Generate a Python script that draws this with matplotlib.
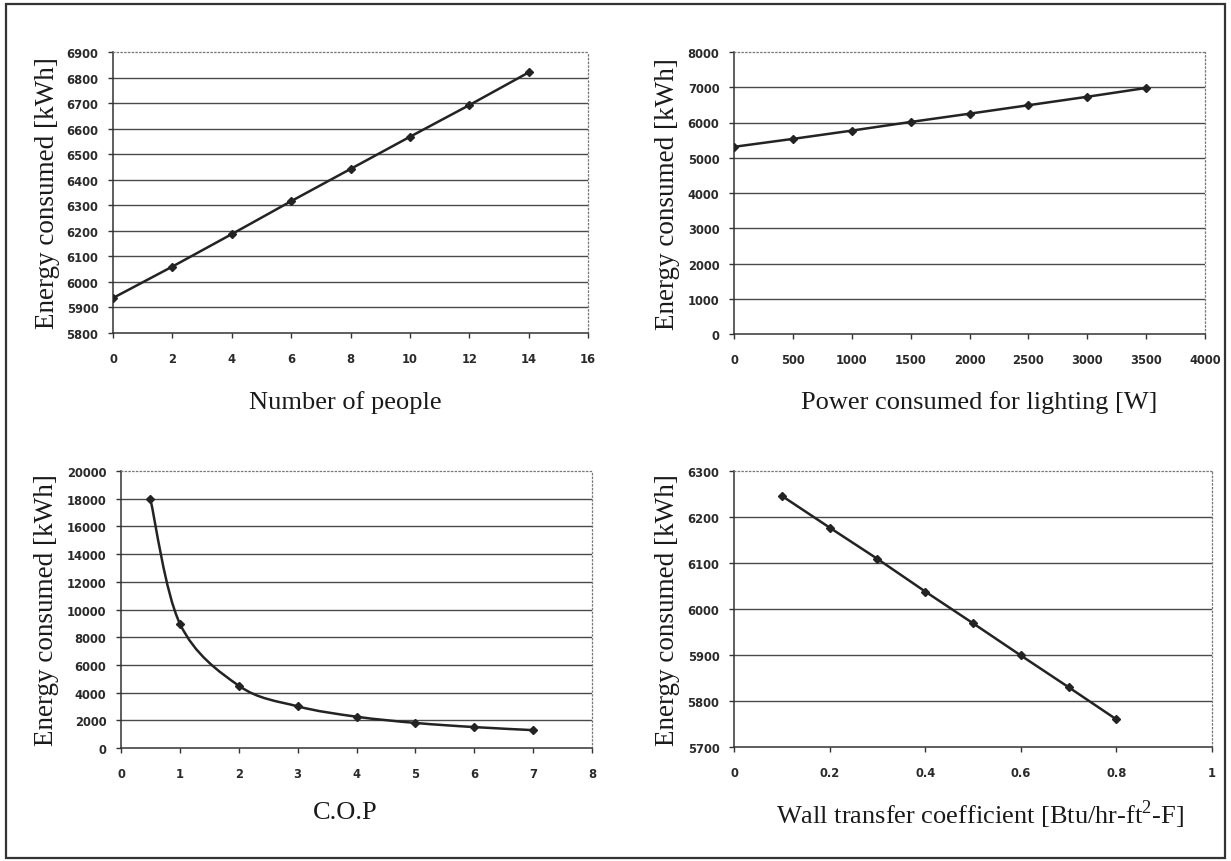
import matplotlib.pyplot as plt
import numpy as np
from matplotlib.patches import Rectangle, PathPatch
from matplotlib.path import Path
from matplotlib.ticker import MultipleLocator, FuncFormatter

plt.rcParams['mathtext.fontset'] = 'custom'
plt.rcParams['mathtext.rm'] = 'Liberation Serif'

# Number of people
people = [0, 2, 4, 6, 8, 10, 12, 14]
energy_people = [5937, 6060, 6187, 6316, 6442, 6568, 6692, 6820]

# Power consumed for lighting [W]
lighting = [0, 500, 1000, 1500, 2000, 2500, 3000, 3500]
energy_lighting = [5310, 5535, 5770, 6015, 6250, 6490, 6730, 6980]

# C.O.P
cop = [0.5, 1, 2, 3, 4, 5, 6, 7]
energy_cop = [17950, 8980, 4500, 3010, 2260, 1810, 1510, 1290]

# Wall transfer coefficient
wall_u = [0.1, 0.2, 0.3, 0.4, 0.5, 0.6, 0.7, 0.8]
energy_wall = [6246, 6177, 6109, 6038, 5969, 5899, 5830, 5760]

W, H = 1231, 862
LINE = '#232323'
GRID = '#4a4a4a'


def smooth_path(xs, ys):
    """ Excel style smoothed line: cubic bezier segments through the data points """
    pts = np.column_stack([xs, ys]).astype(float)
    verts = [pts[0]]
    codes = [Path.MOVETO]
    for i in range(len(pts) - 1):
        p0 = pts[max(i - 1, 0)]
        p1 = pts[i]
        p2 = pts[i + 1]
        p3 = pts[min(i + 2, len(pts) - 1)]
        c1 = p1 + (p2 - p0) / 6
        c2 = p2 - (p3 - p1) / 6
        verts += [c1, c2, p2]
        codes += [Path.CURVE4] * 3
    return Path(verts, codes)


def panel(rect_px, x, y, xlim, xstep, ylim, ystep, xlabel, xlab_off, ylab_off, smooth=False):
    left, top, right, bottom = rect_px
    ax = fig.add_axes([left / W, 1 - bottom / H, (right - left) / W, (bottom - top) / H])
    ax.set_xlim(*xlim)
    ax.set_ylim(*ylim)
    ax.xaxis.set_major_locator(MultipleLocator(xstep))
    ax.yaxis.set_major_locator(MultipleLocator(ystep))
    ax.xaxis.set_major_formatter(FuncFormatter(lambda v, p: f'{v:g}'))
    ax.yaxis.set_major_formatter(FuncFormatter(lambda v, p: f'{v:g}'))

    # horizontal gridlines, except the top one (plot border is dotted there)
    for yv in np.arange(ylim[0] + ystep, ylim[1] - ystep / 2, ystep):
        ax.axhline(yv, color=GRID, lw=1.0, zorder=1)

    for side in ('top', 'right'):
        ax.spines[side].set_linestyle((0, (1, 2)))
        ax.spines[side].set_color('#777777')
        ax.spines[side].set_linewidth(0.9)
    for side in ('left', 'bottom'):
        ax.spines[side].set_color('#333333')
        ax.spines[side].set_linewidth(1.1)

    ax.tick_params(axis='y', direction='out', length=3.5, width=1, pad=7, color='#333333')
    ax.tick_params(axis='x', direction='out', length=3.5, width=1, pad=10, color='#333333')
    for lab in ax.get_xticklabels() + ax.get_yticklabels():
        lab.set_fontfamily('DejaVu Sans')
        lab.set_fontweight('bold')
        lab.set_fontsize(8.3)
        lab.set_color('#2a2a2a')

    if smooth:
        ax.add_patch(PathPatch(smooth_path(x, y), facecolor='none', edgecolor=LINE,
                               lw=1.8, zorder=3))
        ax.plot(x, y, linestyle='none', marker='D', markersize=4.5, color=LINE, zorder=4)
    else:
        ax.plot(x, y, color=LINE, lw=1.8, marker='D', markersize=4.5, zorder=3)

    ax.annotate(xlabel, xy=(0.5, 0), xycoords='axes fraction',
                xytext=(xlab_off[0] * 0.72, -xlab_off[1] * 0.72),
                textcoords='offset points', ha='center', va='center',
                fontfamily='Liberation Serif', fontsize=19, color='#1a1a1a')
    ax.annotate('Energy consumed [kWh]', xy=(0, 0.5), xycoords='axes fraction',
                xytext=(-ylab_off * 0.72, 0), textcoords='offset points', ha='center', va='center',
                rotation=90, fontfamily='Liberation Serif', fontsize=19.5, color='#1a1a1a')
    return ax


fig = plt.figure(figsize=(W / 100, H / 100), dpi=100)
fig.patches.append(Rectangle((6 / W, 1 - 859 / H), (1225 - 6) / W, (859 - 5) / H,
                             transform=fig.transFigure, fill=False, edgecolor='#333333', lw=1.6))

panel((113, 53, 588, 334), people, energy_people, (0, 16), 2, (5800, 6900), 100,
      'Number of people', (-5, 69), 66)
panel((734, 53, 1205, 335), lighting, energy_lighting, (0, 4000), 500, (0, 8000), 1000,
      'Power consumed for lighting [W]', (10, 68), 66)
panel((121, 472, 592, 749), cop, energy_cop, (0, 8), 1, (0, 20000), 2000,
      'C.O.P', (-11, 64), 74, smooth=True)
panel((734, 472, 1212, 748), wall_u, energy_wall, (0, 1), 0.2, (5700, 6300), 100,
      r'Wall transfer coefficient [Btu/hr-ft$^{\mathrm{2}}$-F]', (7, 67), 66)

fig.savefig('out.png', dpi=100)
